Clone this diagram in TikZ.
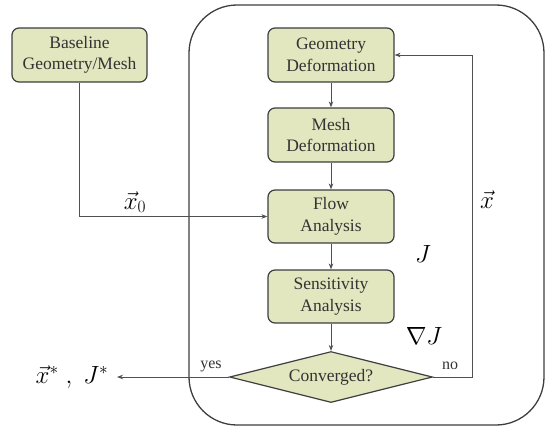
\documentclass[tikz,border=0pt]{standalone}
\usepackage{fontspec}
\setmainfont{Liberation Serif}
\usetikzlibrary{shapes.geometric,arrows.meta}
\definecolor{boxfill}{HTML}{E2E7BF}
\definecolor{boxline}{HTML}{3E3E3E}
\definecolor{txt}{HTML}{333333}
\definecolor{wire}{HTML}{505050}
\tikzset{
  procbox/.style={draw=boxline, line width=1.2pt, fill=boxfill, rounded corners=7pt,
    minimum width=126pt, minimum height=54pt, inner sep=0pt, align=center,
    text=txt, font=\fontsize{17.5}{21.5}\selectfont},
  decbox/.style={draw=boxline, line width=1.2pt, fill=boxfill, diamond, aspect=4,
    minimum width=203pt, minimum height=51pt, inner sep=0pt,
    text=txt, font=\fontsize{17.5}{21.5}\selectfont},
  wirel/.style={draw=wire, line width=0.9pt},
  arr/.style={wirel, -{Stealth[length=6pt,width=4.5pt]}},
  mathlbl/.style={text=black, font=\fontsize{26}{30}\selectfont, inner sep=0pt},
  smalllbl/.style={text=txt, font=\fontsize{16}{19}\selectfont, inner sep=0pt},
}
\begin{document}
\begin{tikzpicture}[x=1pt,y=-1pt]
\useasboundingbox (0,0) rectangle (545,428);
% container
\draw[draw=boxline, line width=1.3pt, rounded corners=48pt] (189,5) rectangle (544,425);
% nodes
\node[procbox, minimum width=135pt] (base) at (79.5,55) {Baseline\\Geometry/Mesh};
\node[procbox] (geo) at (331,55) {Geometry\\Deformation};
\node[procbox] (mesh) at (331,135) {Mesh\\Deformation};
\node[procbox, minimum height=53pt] (flow) at (331,216.5) {Flow\\Analysis};
\node[procbox, minimum height=53pt] (sens) at (331,296.5) {Sensitivity\\Analysis};
\node[decbox] (conv) at (331,377) {Converged?};
% coordinates
\coordinate (xin) at (79.5,216.5);
\coordinate (outend) at (117,377);
\coordinate (fbr) at (472,377);
\coordinate (fbt) at (472,55);
% connectors
\draw[arr] (base.south) -- (xin) -- (flow.west);
\draw[arr] (geo) -- (mesh);
\draw[arr] (mesh) -- (flow);
\draw[arr] (flow) -- (sens);
\draw[arr] (sens) -- (conv);
\draw[arr] (conv.west) -- (outend);
\draw[arr] (conv.east) -- (fbr) -- (fbt) -- (geo.east);
% labels
\node[mathlbl] (lx0) at (135,202) {$\vec{x}_0$};
\node[mathlbl] (lx) at (487,200) {$\vec{x}$};
\node[mathlbl] (lJ) at (423,254) {$J$};
\node[mathlbl] (lgJ) at (424,336) {$\nabla J$};
\node[mathlbl] (lout) at (72,377) {$\vec{x}^{*}\;,\;J^{*}$};
\node[smalllbl] (lyes) at (211,366) {yes};
\node[smalllbl] (lno) at (450,366) {no};
\end{tikzpicture}
\end{document}
